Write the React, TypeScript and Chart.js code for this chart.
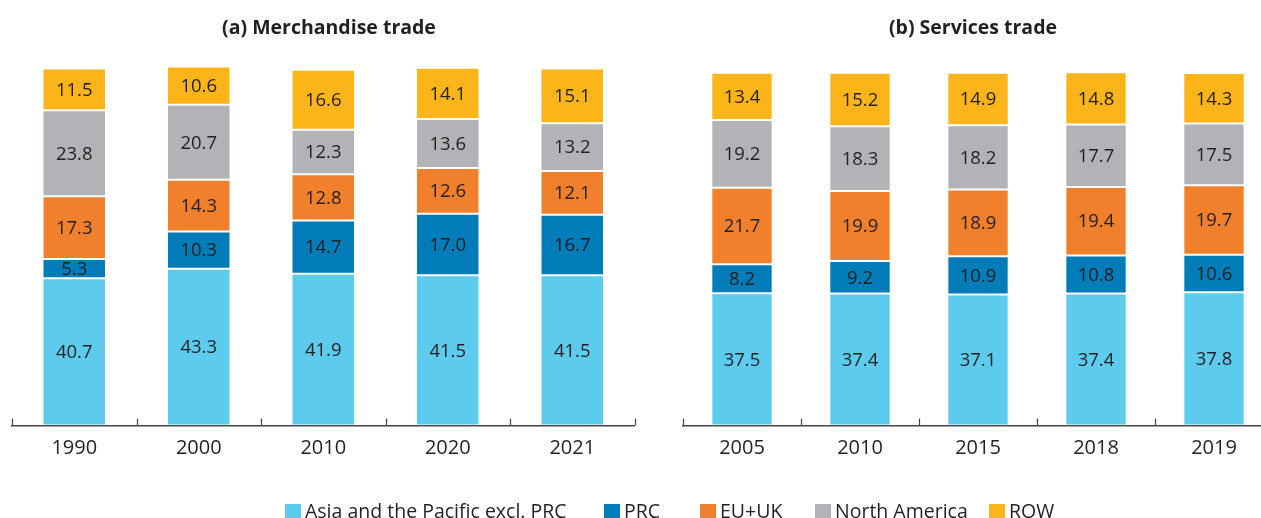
import React, { useEffect, useRef } from "react";
import { Chart, registerables } from "chart.js";

Chart.register(...registerables);

const merchCategories = ["1990", "2000", "2010", "2020", "2021"];
const merchAsia = [40.7, 43.3, 41.9, 41.5, 41.5];
const merchPRC = [5.3, 10.3, 14.7, 17.0, 16.7];
const merchEU = [17.3, 14.3, 12.8, 12.6, 12.1];
const merchNA = [23.8, 20.7, 12.3, 13.6, 13.2];
const merchROW = [11.5, 10.6, 16.6, 14.1, 15.1];

const servCategories = ["2005", "2010", "2015", "2018", "2019"];
const servAsia = [37.5, 37.4, 37.1, 37.4, 37.8];
const servPRC = [8.2, 9.2, 10.9, 10.8, 10.6];
const servEU = [21.7, 19.9, 18.9, 19.4, 19.7];
const servNA = [19.2, 18.3, 18.2, 17.7, 17.5];
const servROW = [13.4, 15.2, 14.9, 14.8, 14.3];

const seriesNames = ["Asia and the Pacific excl. PRC", "PRC", "EU+UK", "North America", "ROW"];
const seriesColors = ["#5CCBEE", "#007CB8", "#F0802C", "#B1B3B6", "#FBB419"];

const FONT = "'Open Sans', 'DejaVu Sans', sans-serif";
const TEXT = "#231F20";

const labelPlugin = {
  id: "segLabels",
  afterDatasetsDraw(chart: any) {
    const ctx = chart.ctx;
    ctx.save();
    ctx.font = `18.5px ${FONT}`;
    ctx.fillStyle = TEXT;
    ctx.textAlign = "center";
    ctx.textBaseline = "middle";
    chart.data.datasets.forEach((ds: any, di: number) => {
      const meta = chart.getDatasetMeta(di);
      meta.data.forEach((el: any, i: number) => {
        const p = el.getProps(["x", "y", "base"], true);
        ctx.fillText(Number(ds.data[i]).toFixed(1), p.x, (p.y + p.base) / 2 + 1);
      });
    });
    ctx.restore();
  },
};

const tickPlugin = {
  id: "innerTicks",
  afterDraw(chart: any) {
    const sc = chart.scales.x;
    const n = chart.data.labels.length;
    const ctx = chart.ctx;
    ctx.save();
    ctx.strokeStyle = "#444444";
    ctx.lineWidth = 1.2;
    for (let i = 0; i <= n; i++) {
      const x = Math.round(sc.getPixelForValue(i - 0.5)) + 0.5;
      ctx.beginPath();
      ctx.moveTo(x, sc.top);
      ctx.lineTo(x, sc.top - 7);
      ctx.stroke();
    }
    ctx.restore();
  },
};

function StackChart(props: {
  cats: string[];
  series: number[][];
  width: number;
  height: number;
  padding: { left: number; right: number; top: number; bottom: number };
  catPct: number;
}) {
  const ref = useRef<HTMLCanvasElement | null>(null);
  useEffect(() => {
    if (!ref.current) return;
    const chart = new Chart(ref.current, {
      type: "bar",
      data: {
        labels: props.cats,
        datasets: props.series.map((d, i) => ({
          label: seriesNames[i],
          data: d,
          backgroundColor: seriesColors[i],
          borderColor: "rgba(255,255,255,0.4)",
          borderWidth: 1,
          borderSkipped: false,
          categoryPercentage: props.catPct,
          barPercentage: 1,
        })),
      },
      options: {
        responsive: false,
        animation: false,
        layout: { padding: props.padding },
        plugins: { legend: { display: false }, tooltip: { enabled: false }, title: { display: false } },
        scales: {
          x: {
            stacked: true,
            offset: true,
            grid: { display: false, drawTicks: false },
            border: { display: true, color: "#444444", width: 1.5 },
            ticks: { color: TEXT, font: { family: FONT, size: 20 }, padding: 11 },
            afterFit: (s: any) => {
              s.height = 40;
            },
          },
          y: {
            stacked: true,
            display: false,
            min: 0,
            max: 100,
          },
        },
      },
      plugins: [labelPlugin, tickPlugin],
    });
    return () => chart.destroy();
  }, []);
  return (
    <canvas
      ref={ref}
      width={props.width}
      height={props.height}
      style={{ width: props.width, height: props.height, display: "block" }}
    />
  );
}

const legendLefts = [285, 604, 700, 815, 989];

export default function App() {
  return (
    <div
      style={{
        position: "fixed",
        left: 0,
        top: 0,
        width: 1261,
        height: 518,
        overflow: "hidden",
        background: "#ffffff",
        fontFamily: FONT,
        color: TEXT,
      }}
    >
      <div style={{ position: "absolute", left: 0, top: 0 }}>
        <StackChart
          cats={merchCategories}
          series={[merchAsia, merchPRC, merchEU, merchNA, merchROW]}
          width={650}
          height={500}
          padding={{ left: 12, right: 15.5, top: 63.5, bottom: 34.5 }}
          catPct={0.51}
        />
      </div>
      <div style={{ position: "absolute", left: 660, top: 0 }}>
        <StackChart
          cats={servCategories}
          series={[servAsia, servPRC, servEU, servNA, servROW]}
          width={640}
          height={500}
          padding={{ left: 23, right: 27, top: 72.7, bottom: 34.5 }}
          catPct={0.52}
        />
      </div>
      <div
        style={{
          position: "absolute",
          left: 129,
          width: 400,
          top: 14,
          textAlign: "center",
          fontWeight: 700,
          fontSize: 19.5,
          lineHeight: "26px",
        }}
      >
        (a) Merchandise trade
      </div>
      <div
        style={{
          position: "absolute",
          left: 773,
          width: 400,
          top: 14,
          textAlign: "center",
          fontWeight: 700,
          fontSize: 19.5,
          lineHeight: "26px",
        }}
      >
        (b) Services trade
      </div>
      {seriesNames.map((name, i) => (
        <div
          key={name}
          style={{
            position: "absolute",
            left: legendLefts[i],
            top: 499,
            display: "flex",
            alignItems: "center",
            fontSize: 19.5,
            lineHeight: "24px",
            whiteSpace: "nowrap",
          }}
        >
          <span
            style={{
              display: "inline-block",
              width: 16,
              height: 16,
              background: seriesColors[i],
              marginRight: 4,
              marginTop: 2,
            }}
          />
          {name}
        </div>
      ))}
    </div>
  );
}
